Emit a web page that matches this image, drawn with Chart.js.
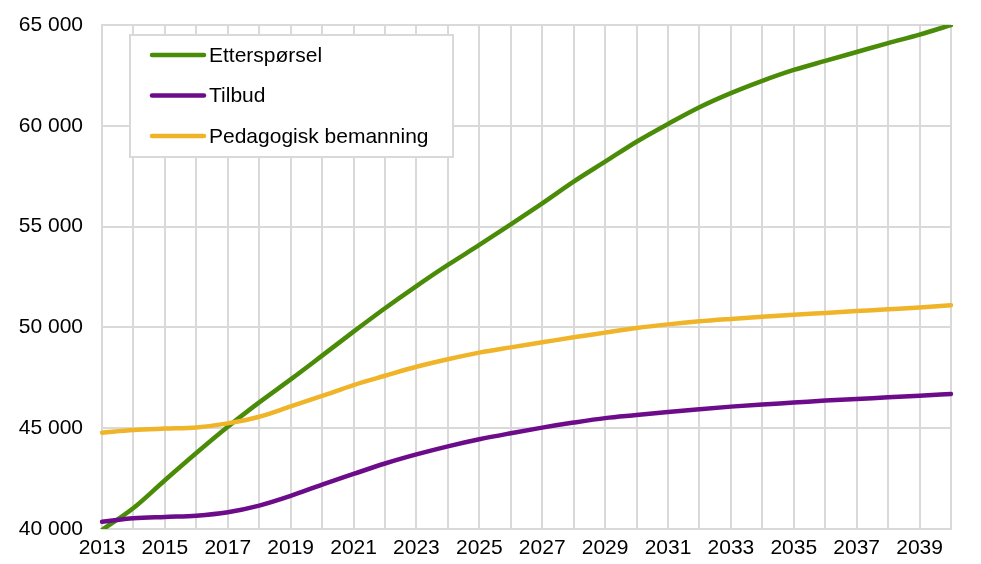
<!DOCTYPE html>
<html>
<head>
<meta charset="utf-8">
<script src="https://cdn.jsdelivr.net/npm/chart.js@4.4.1/dist/chart.umd.min.js"></script>
<style>
  html, body { margin: 0; padding: 0; background: #fff; }
  #wrap { width: 981px; height: 564px; }
</style>
</head>
<body>
<div id="wrap"><canvas id="myChart" width="981" height="564"></canvas></div>
<script>
// data
const years = [2013, 2014, 2015, 2016, 2017, 2018, 2019, 2020, 2021, 2022, 2023, 2024, 2025, 2026,
  2027, 2028, 2029, 2030, 2031, 2032, 2033, 2034, 2035, 2036, 2037, 2038, 2039, 2040];

const ettersporsel = [39950, 41040, 42420, 43770, 45070, 46280, 47420, 48600, 49790, 50950, 52050, 53100,
  54090, 55110, 56150, 57230, 58220, 59210, 60090, 60920, 61620, 62230, 62770, 63220, 63660, 64100, 64520, 65000];

const tilbud = [40360, 40530, 40600, 40660, 40830, 41160, 41640, 42200, 42730, 43250, 43700, 44100,
  44450, 44750, 45030, 45280, 45500, 45650, 45800, 45940, 46070, 46180, 46270, 46370, 46450, 46530, 46610, 46700];

const pedagogisk = [44780, 44910, 44980, 45040, 45240, 45570, 46080, 46600, 47140, 47600, 48050, 48420,
  48750, 49010, 49260, 49510, 49740, 49970, 50150, 50300, 50420, 50530, 50630, 50720, 50810, 50900, 50990, 51100];

const seriesNames = ["Etterspørsel", "Tilbud", "Pedagogisk bemanning"];
const seriesColors = ["#4a8c08", "#6c0c8a", "#f0b429"];

const font = "Liberation Sans, Arial, sans-serif";
const gridColor = "#d9d9d9";

// legend drawn inside the plot, like the original
const boxLegend = {
  id: "boxLegend",
  afterDraw(chart) {
    const c = chart.ctx;
    c.save();
    c.fillStyle = "#fff";
    c.fillRect(130, 35, 323, 122);
    c.strokeStyle = gridColor;
    c.lineWidth = 2;
    c.strokeRect(130, 35, 323, 122);
    c.font = "21px " + font;
    c.textBaseline = "middle";
    chart.data.datasets.forEach(function (ds, i) {
      const y = 55 + i * 40.5;
      c.strokeStyle = ds.borderColor;
      c.lineWidth = 4.5;
      c.lineCap = "round";
      c.beginPath();
      c.moveTo(152, y);
      c.lineTo(204, y);
      c.stroke();
      c.fillStyle = "#000";
      c.fillText(ds.label, 209, y + 1);
    });
    c.restore();
  }
};

const ctx = document.getElementById("myChart").getContext("2d");
new Chart(ctx, {
  type: "line",
  data: {
    labels: years,
    datasets: [
      { label: seriesNames[0], data: ettersporsel, borderColor: seriesColors[0], order: 2 },
      { label: seriesNames[1], data: tilbud, borderColor: seriesColors[1], order: 1 },
      { label: seriesNames[2], data: pedagogisk, borderColor: seriesColors[2], order: 0 },
    ].map(function (d) {
      return Object.assign(d, {
        borderWidth: 4.5,
        pointRadius: 0,
        cubicInterpolationMode: "monotone",
        fill: false,
        borderCapStyle: "round",
      });
    }),
  },
  options: {
    responsive: false,
    animation: false,
    layout: { padding: { left: 0, right: 30, top: 25, bottom: 0 } },
    plugins: {
      legend: { display: false },
      tooltip: { enabled: false },
    },
    scales: {
      x: {
        offset: false,
        grid: { color: gridColor, lineWidth: 2, drawTicks: false },
        border: { color: gridColor, width: 2 },
        ticks: {
          autoSkip: false,
          maxRotation: 0,
          padding: 7,
          color: "#000",
          font: { family: font, size: 21 },
          callback: function (val, i) {
            return years[i] % 2 === 1 ? String(years[i]) : "";
          },
        },
        afterFit: function (s) {
          s.height = 35;
          s.paddingLeft = 0;
          s.paddingRight = 0;
        },
      },
      y: {
        min: 40000,
        max: 65000,
        grid: { color: gridColor, lineWidth: 2, drawTicks: false },
        border: { color: gridColor, width: 2 },
        ticks: {
          stepSize: 5000,
          padding: 19,
          color: "#000",
          font: { family: font, size: 21 },
          callback: function (v) {
            return String(v).replace(/(\d+)(\d{3})$/, "$1 $2");
          },
        },
        afterFit: function (s) {
          s.width = 102;
          s.paddingTop = 0;
          s.paddingBottom = 0;
        },
      },
    },
  },
  plugins: [boxLegend],
});
</script>
</body>
</html>
